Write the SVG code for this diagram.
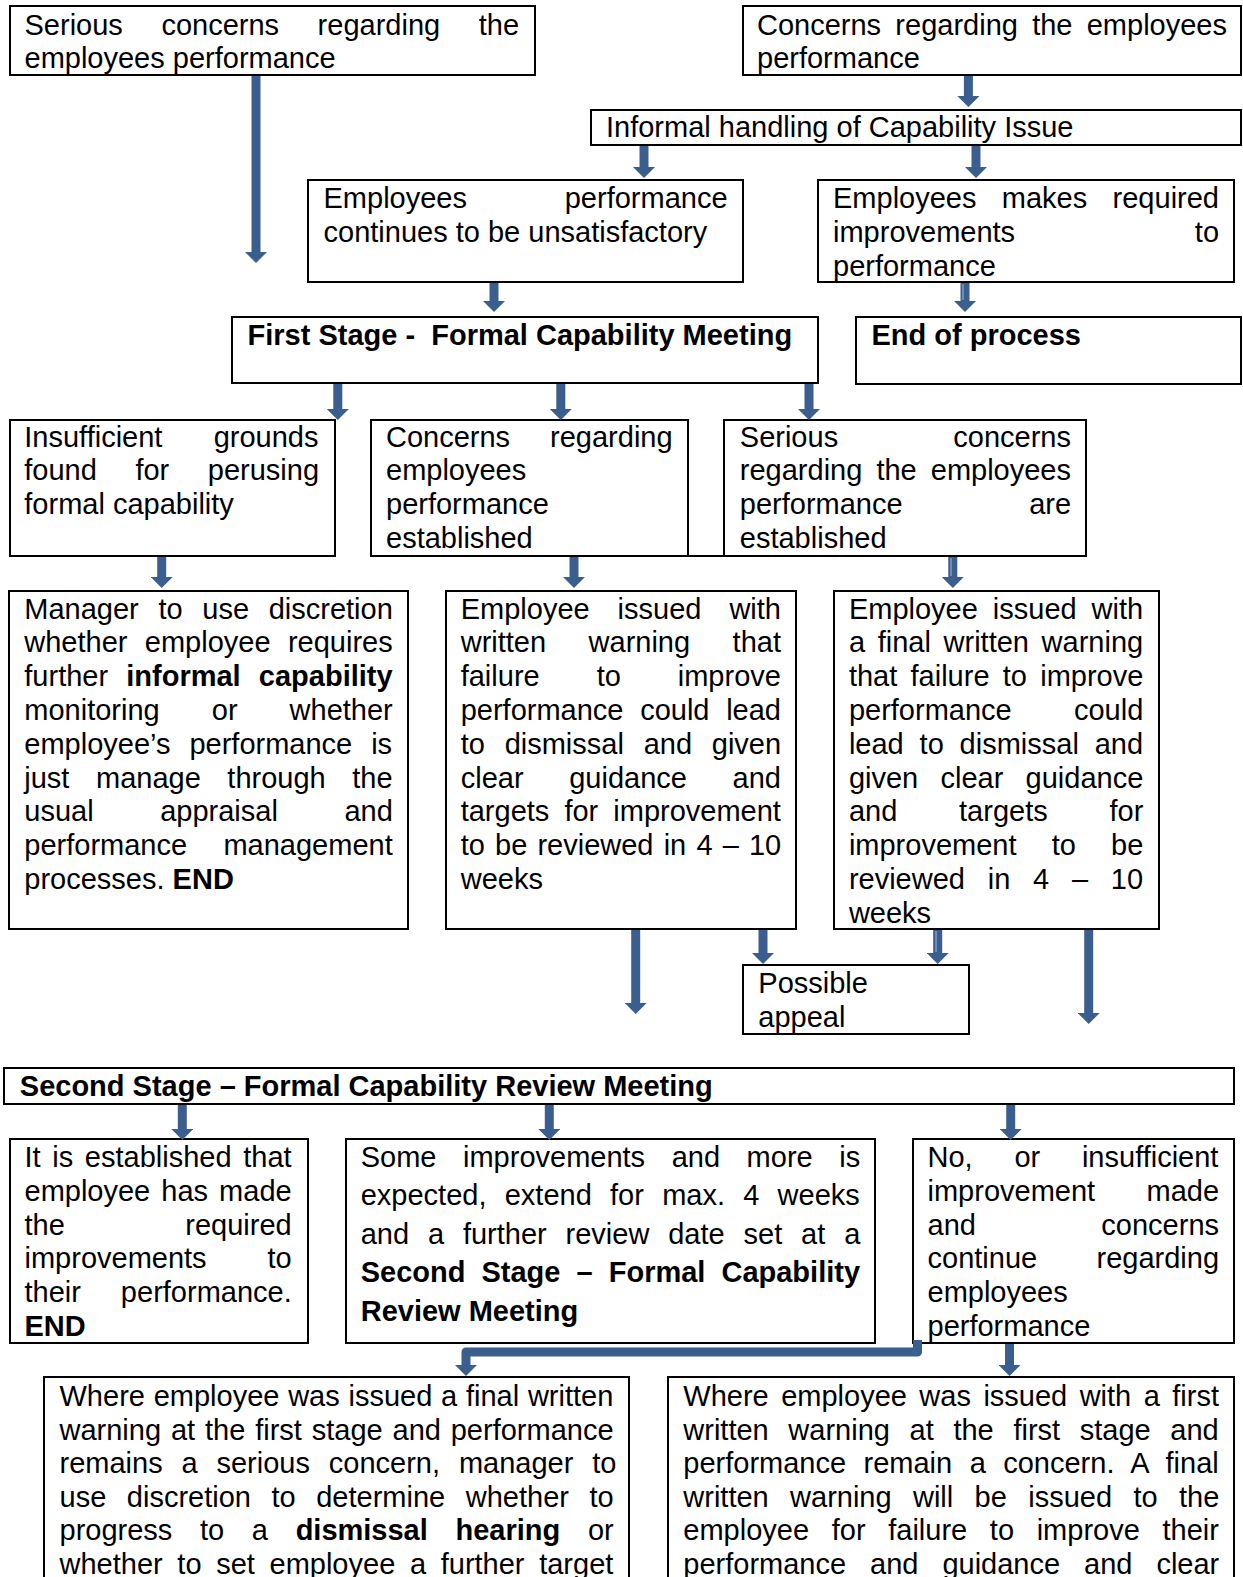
<svg xmlns="http://www.w3.org/2000/svg" width="1243" height="1577" viewBox="0 0 1243 1577">
<style>
.b{fill:#fff;stroke:#000;stroke-width:2}
text{font-family:"Liberation Sans",Arial,sans-serif;font-size:29px;fill:#000}
.bd{font-weight:bold}
.c{stroke:#3A5E8D;stroke-width:9;fill:none;marker-end:url(#ah)}
.hl{stroke:#7F9CC4;stroke-width:1.5;fill:none}
</style>
<defs>
<marker id="ah" viewBox="0 0 11 22" refX="0" refY="11" markerWidth="11" markerHeight="22" markerUnits="userSpaceOnUse" orient="auto">
<path d="M0,0 L11,11 L0,22 z" fill="#3A5E8D"/>
</marker>
</defs>
<rect width="1243" height="1577" fill="#fff"/>

<g id="n1"><rect class="b" x="10" y="6" width="525" height="69"/>
<text x="24.5" y="34.5" word-spacing="30.5">Serious concerns regarding the</text>
<text x="24.5" y="68">employees performance</text></g>

<g id="n2"><rect class="b" x="743" y="6" width="498" height="69"/>
<text x="757" y="34.5" word-spacing="6.2">Concerns regarding the employees</text>
<text x="757" y="68">performance</text></g>

<g id="n3"><rect class="b" x="591" y="110" width="650" height="35"/>
<text x="606" y="137">Informal handling of Capability Issue</text></g>

<g id="n4"><rect class="b" x="308" y="180" width="435" height="102"/>
<text x="323.5" y="208" word-spacing="89.7">Employees performance</text>
<text x="323.5" y="241.8">continues to be unsatisfactory</text></g>

<g id="n5"><rect class="b" x="818" y="180" width="416" height="102"/>
<text x="833" y="208" word-spacing="17.3">Employees makes required</text>
<text x="833" y="241.8" word-spacing="171.7">improvements to</text>
<text x="833" y="275.6">performance</text></g>

<g id="n6"><rect class="b" x="232" y="317" width="586" height="66"/>
<text class="bd" x="247.5" y="345">First Stage -&#160; Formal Capability Meeting</text></g>

<g id="n7"><rect class="b" x="856" y="317" width="385" height="67"/>
<text class="bd" x="871.5" y="345">End of process</text></g>

<g id="n8"><rect class="b" x="10" y="420" width="325" height="136"/>
<text x="24.3" y="446.5" word-spacing="43.2">Insufficient grounds</text>
<text x="24.3" y="480.3" word-spacing="30.5">found for perusing</text>
<text x="24.3" y="514.1">formal capability</text></g>

<g id="n9"><rect class="b" x="371" y="420" width="317" height="136"/>
<text x="386" y="446.5" word-spacing="31.9">Concerns regarding</text>
<text x="386" y="480.3">employees</text>
<text x="386" y="514.1">performance</text>
<text x="386" y="547.9">established</text></g>

<g id="n10"><rect class="b" x="724" y="420" width="362" height="136"/>
<path d="M688,556 H724" stroke="#000" stroke-width="2"/>
<text x="739.8" y="446.5" word-spacing="107.1">Serious concerns</text>
<text x="739.8" y="480.3" word-spacing="6">regarding the employees</text>
<text x="739.8" y="514.1" word-spacing="118.5">performance are</text>
<text x="739.8" y="547.9">established</text></g>

<g id="n11"><rect class="b" x="9" y="591" width="399" height="338"/>
<text x="24.3" y="618.5" word-spacing="11.6">Manager to use discretion</text>
<text x="24.3" y="652.3" word-spacing="9.3">whether employee requires</text>
<text x="24.3" y="686.1" word-spacing="10.1">further <tspan class="bd">informal capability</tspan></text>
<text x="24.3" y="719.9" word-spacing="44">monitoring or whether</text>
<text x="24.3" y="753.7" word-spacing="10.9">employee’s performance is</text>
<text x="24.3" y="787.5" word-spacing="18.5">just manage through the</text>
<text x="24.3" y="821.3" word-spacing="58.5">usual appraisal and</text>
<text x="24.3" y="855.1" word-spacing="28.3">performance management</text>
<text x="24.3" y="888.9">processes. <tspan class="bd">END</tspan></text></g>

<g id="n12"><rect class="b" x="446" y="591" width="350" height="338"/>
<text x="460.7" y="618.5" word-spacing="19.9">Employee issued with</text>
<text x="460.7" y="652.3" word-spacing="34.4">written warning that</text>
<text x="460.7" y="686.1" word-spacing="48.9">failure to improve</text>
<text x="460.7" y="719.9" word-spacing="8.6">performance could lead</text>
<text x="460.7" y="753.7" word-spacing="11.7">to dismissal and given</text>
<text x="460.7" y="787.5" word-spacing="37.6">clear guidance and</text>
<text x="460.7" y="821.3" word-spacing="7">targets for improvement</text>
<text x="460.7" y="855.1" word-spacing="2.1">to be reviewed in 4 – 10</text>
<text x="460.7" y="888.9">weeks</text></g>

<g id="n13"><rect class="b" x="834" y="591" width="325" height="338"/>
<text x="848.9" y="618.5" word-spacing="6.9">Employee issued with</text>
<text x="848.9" y="652.3" word-spacing="4.6">a final written warning</text>
<text x="848.9" y="686.1" word-spacing="5.2">that failure to improve</text>
<text x="848.9" y="719.9" word-spacing="54.2">performance could</text>
<text x="848.9" y="753.7" word-spacing="7.8">lead to dismissal and</text>
<text x="848.9" y="787.5" word-spacing="14.2">given clear guidance</text>
<text x="848.9" y="821.3" word-spacing="53.7">and targets for</text>
<text x="848.9" y="855.1" word-spacing="27.1">improvement to be</text>
<text x="848.9" y="888.9" word-spacing="14.7">reviewed in 4 – 10</text>
<text x="848.9" y="922.7">weeks</text></g>

<g id="n14"><rect class="b" x="743" y="965" width="226" height="69"/>
<text x="758.3" y="993">Possible</text>
<text x="758.3" y="1026.5">appeal</text></g>

<g id="n15"><rect class="b" x="4" y="1068" width="1230" height="36"/>
<text class="bd" x="19.8" y="1095.5">Second Stage – Formal Capability Review Meeting</text></g>

<g id="n16"><rect class="b" x="10" y="1139" width="298" height="204"/>
<text x="24.5" y="1167" word-spacing="3.6">It is established that</text>
<text x="24.5" y="1200.8" word-spacing="3">employee has made</text>
<text x="24.5" y="1234.6" word-spacing="112.4">the required</text>
<text x="24.5" y="1268.4" word-spacing="52.8">improvements to</text>
<text x="24.5" y="1302.2" word-spacing="31.9">their performance.</text>
<text class="bd" x="24.5" y="1336">END</text></g>

<g id="n17"><rect class="b" x="346" y="1139" width="529" height="204"/>
<text x="360.7" y="1167" word-spacing="18.5">Some improvements and more is</text>
<text x="360.7" y="1205.4" word-spacing="10.2">expected, extend for max. 4 weeks</text>
<text x="360.7" y="1243.8" word-spacing="10.8">and a further review date set at a</text>
<text class="bd" x="360.7" y="1282.2" word-spacing="8">Second Stage – Formal Capability</text>
<text class="bd" x="360.7" y="1320.6">Review Meeting</text></g>

<g id="n18"><rect class="b" x="913" y="1139" width="321" height="204"/>
<text x="927.5" y="1167" word-spacing="33.7">No, or insufficient</text>
<text x="927.5" y="1200.8" word-spacing="43.3">improvement made</text>
<text x="927.5" y="1234.6" word-spacing="117.4">and concerns</text>
<text x="927.5" y="1268.4" word-spacing="51.3">continue regarding</text>
<text x="927.5" y="1302.2">employees</text>
<text x="927.5" y="1336">performance</text></g>

<g id="n19"><rect class="b" x="44" y="1377" width="585" height="240"/>
<text x="59.5" y="1406" word-spacing="0.7">Where employee was issued a final written</text>
<text x="59.5" y="1439.6" word-spacing="1.8">warning at the first stage and performance</text>
<text x="59.5" y="1473.2" word-spacing="10.8">remains a serious concern, manager to</text>
<text x="59.5" y="1506.8" word-spacing="12.5">use discretion to determine whether to</text>
<text x="59.5" y="1540.4" word-spacing="19.6">progress to a <tspan class="bd">dismissal hearing</tspan> or</text>
<text x="59.5" y="1574" word-spacing="6.6">whether to set employee a further target</text></g>

<g id="n20"><rect class="b" x="668" y="1377" width="566" height="240"/>
<text x="683.3" y="1406" word-spacing="4.4">Where employee was issued with a first</text>
<text x="683.3" y="1439.6" word-spacing="11.6">written warning at the first stage and</text>
<text x="683.3" y="1473.2" word-spacing="9.4">performance remain a concern. A final</text>
<text x="683.3" y="1506.8" word-spacing="13.3">written warning will be issued to the</text>
<text x="683.3" y="1540.4" word-spacing="14.6">employee for failure to improve their</text>
<text x="683.3" y="1574" word-spacing="15.9">performance and guidance and clear</text></g>

<g id="connectors">
<path class="c" d="M256,76 V252"/>
<path class="c" d="M968.4,76 V96"/>
<path class="c" d="M644,146 V167"/>
<path class="c" d="M976,146 V167"/>
<path class="c" d="M494,283 V301"/>
<path class="c" d="M965,283 V301"/>
<path class="hl" d="M963,284 V300"/>
<path class="c" d="M337.8,384 V409"/>
<path class="c" d="M560.8,384 V409"/>
<path class="c" d="M809,384 V409"/>
<path class="c" d="M161.7,557 V577"/>
<path class="c" d="M574,557 V577"/>
<path class="c" d="M952.8,557 V577"/>
<path class="hl" d="M951,558 V576"/>
<path class="c" d="M635.7,930 V1003"/>
<path class="c" d="M763,930 V953"/>
<path class="c" d="M937.7,930 V953"/>
<path class="hl" d="M936,931 V952"/>
<path class="c" d="M1088.7,930 V1013"/>
<path class="c" d="M182.3,1105 V1129"/>
<path class="c" d="M549.3,1105 V1129"/>
<path class="c" d="M1010.7,1105 V1129"/>
<path class="c" d="M917.5,1340 V1352 H466 V1365" stroke-linejoin="round"/>
<path class="c" d="M1009.5,1344 V1365"/>
</g>
</svg>
